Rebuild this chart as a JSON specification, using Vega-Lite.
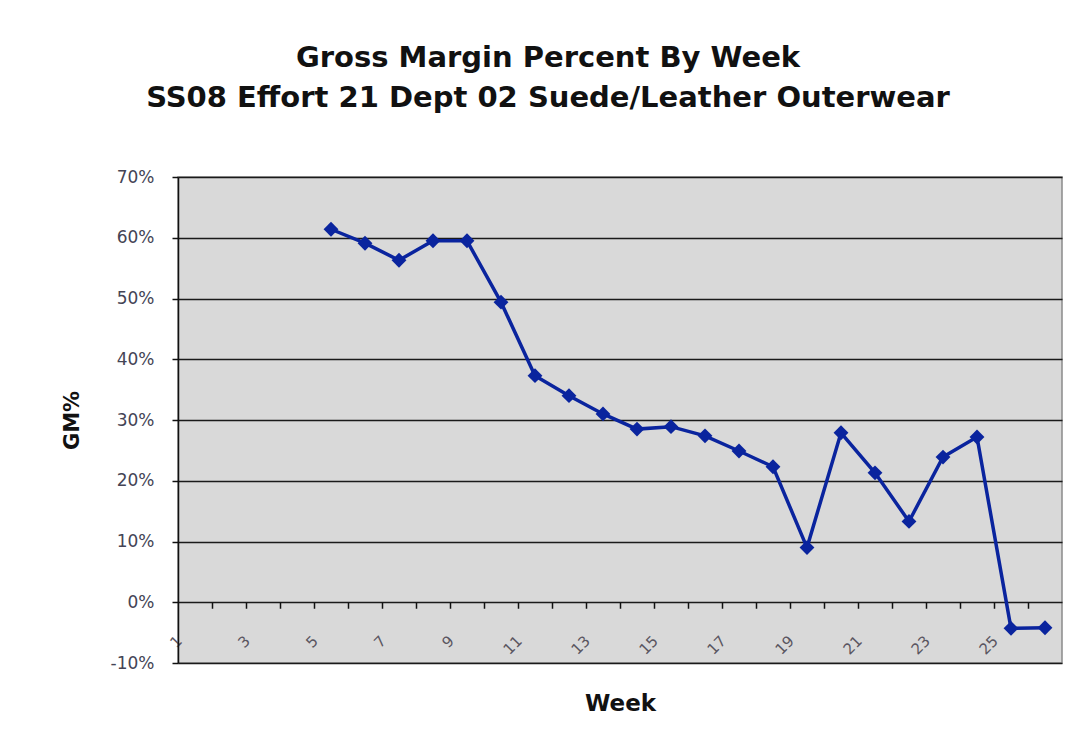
{
  "$schema": "https://vega.github.io/schema/vega-lite/v6.json",
  "width": 884,
  "height": 486,
  "autosize": "none",
  "padding": {"left": 178, "top": 177, "right": 20, "bottom": 86},
  "background": "white",
  "title": {
    "text": ["Gross Margin Percent By Week", "SS08 Effort 21 Dept 02 Suede/Leather Outerwear"],
    "font": "DejaVu Sans",
    "fontSize": 29,
    "fontWeight": "bold",
    "color": "#111111",
    "lineHeight": 40,
    "anchor": "middle",
    "frame": "group",
    "dx": -72,
    "offset": 55
  },
  "data": {
    "values": [
      {"week": 5, "gm": 0.614},
      {"week": 6, "gm": 0.591},
      {"week": 7, "gm": 0.563},
      {"week": 8, "gm": 0.595},
      {"week": 9, "gm": 0.595},
      {"week": 10, "gm": 0.494},
      {"week": 11, "gm": 0.373},
      {"week": 12, "gm": 0.340},
      {"week": 13, "gm": 0.310},
      {"week": 14, "gm": 0.285},
      {"week": 15, "gm": 0.289},
      {"week": 16, "gm": 0.274},
      {"week": 17, "gm": 0.249},
      {"week": 18, "gm": 0.223},
      {"week": 19, "gm": 0.090},
      {"week": 20, "gm": 0.279},
      {"week": 21, "gm": 0.213},
      {"week": 22, "gm": 0.133},
      {"week": 23, "gm": 0.239},
      {"week": 24, "gm": 0.272},
      {"week": 25, "gm": -0.043},
      {"week": 26, "gm": -0.042}
    ]
  },
  "config": {
    "view": {"fill": "#d9d9d9", "stroke": "#8a8a8a", "strokeWidth": 1.5},
    "axis": {"labelFont": "DejaVu Sans", "titleFont": "DejaVu Sans", "labelFlush": false}
  },
  "layer": [
    {
      "mark": {"type": "line", "color": "#0a249e", "strokeWidth": 3.5},
      "encoding": {
        "x": {
          "field": "week",
          "type": "quantitative",
          "scale": {"domain": [0.5, 26.5], "nice": false, "zero": false},
          "axis": {
            "orient": "bottom",
            "values": [1, 3, 5, 7, 9, 11, 13, 15, 17, 19, 21, 23, 25],
            "offset": -30,
            "domain": false,
            "ticks": false,
            "grid": false,
            "labelAngle": -45,
            "labelAlign": "right",
            "labelBaseline": "top",
            "labelPadding": 0,
            "labelOffset": -21,
            "labelFontSize": 15,
            "labelColor": "#5a5560",
            "labelOverlap": false,
            "title": "Week",
            "titleFontSize": 23,
            "titleFontWeight": "bold",
            "titlePadding": 35,
            "titleColor": "#111111"
          }
        },
        "y": {
          "field": "gm",
          "type": "quantitative",
          "scale": {"domain": [-0.1, 0.7], "nice": false, "zero": false},
          "axis": {
            "values": [-0.1, 0, 0.1, 0.2, 0.3, 0.4, 0.5, 0.6, 0.7],
            "labelExpr": "replace(format(datum.value, '.0%'), '\u2212', '-')",
            "grid": true,
            "gridColor": "#1a1a1a",
            "gridWidth": 1.5,
            "domainColor": "#111111",
            "domainWidth": 1.5,
            "tickColor": "#111111",
            "tickSize": 6,
            "tickWidth": 1.5,
            "labelPadding": 18,
            "labelFontSize": 17,
            "labelColor": "#444455",
            "title": "GM%",
            "titleFontSize": 21,
            "titleFontWeight": "bold",
            "titlePadding": 28,
            "titleColor": "#111111"
          }
        }
      }
    },
    {
      "mark": {"type": "point", "shape": "diamond", "filled": true, "size": 220, "color": "#0a249e", "opacity": 1},
      "encoding": {
        "x": {
          "field": "week",
          "type": "quantitative",
          "axis": {
            "orient": "bottom",
            "offset": -60.75,
            "values": [1.5, 2.5, 3.5, 4.5, 5.5, 6.5, 7.5, 8.5, 9.5, 10.5, 11.5, 12.5, 13.5, 14.5, 15.5, 16.5, 17.5, 18.5, 19.5, 20.5, 21.5, 22.5, 23.5, 24.5, 25.5],
            "labels": false,
            "domain": false,
            "grid": false,
            "ticks": true,
            "tickSize": 6,
            "tickColor": "#111111",
            "tickWidth": 1.5,
            "title": null
          }
        },
        "y": {"field": "gm", "type": "quantitative"}
      }
    }
  ],
  "resolve": {"axis": {"x": "independent"}}
}
